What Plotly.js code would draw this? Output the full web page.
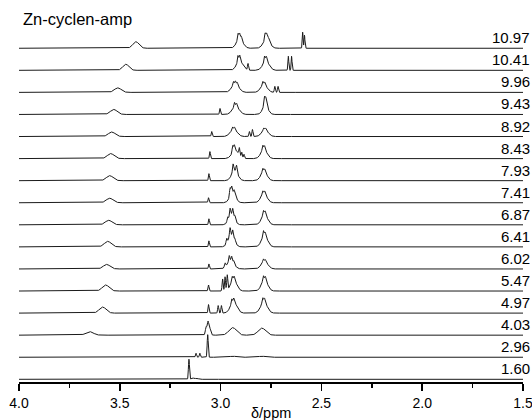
<!DOCTYPE html>
<html>
<head>
<meta charset="utf-8">
<script src="https://cdn.plot.ly/plotly-3.0.1.min.js"></script>
<style>html,body{margin:0;padding:0;background:#fff;}#chart{width:532px;height:420px;}</style>
</head>
<body>
<div id="chart"></div>
<script>
// Spectrum labels (top to bottom)
const labels = ["10.97","10.41","9.96","9.43","8.92","8.43","7.93","7.41","6.87","6.41","6.02","5.47","4.97","4.03","2.96","1.60"];

// Peak lists: [shift ppm, intensity, half-width ppm]
const s1097 = [[3.42,6.5,0.018],[2.905,9,0.019],[2.914,7,0.0035],[2.906,6,0.0035],[2.897,4,0.0035],
  [2.772,9,0.019],[2.779,7,0.0035],[2.771,6,0.0035],[2.762,3,0.0035],[2.593,16,0.0025],[2.584,13,0.0025]];
const s1041 = [[3.47,6,0.018],[2.905,9,0.019],[2.914,7,0.0035],[2.905,6,0.0035],[2.864,6.5,0.003],
  [2.775,9,0.019],[2.782,6,0.0035],[2.773,5,0.0035],[2.664,14,0.0025],[2.648,14,0.0025]];
const s996 = [[3.51,4.5,0.02],[2.927,8,0.021],[2.937,4,0.0035],[2.927,3.5,0.0035],[2.917,3,0.0035],
  [2.785,7.5,0.019],[2.791,4,0.0035],[2.781,3,0.0035],[2.731,6,0.003],[2.715,6,0.003]];
const s943 = [[3.53,5,0.02],[3.003,6,0.003],[2.925,8,0.02],[2.931,4.5,0.0035],[2.921,3.5,0.0035],
  [2.778,9,0.016],[2.783,9,0.0035],[2.776,8,0.0035],[2.769,3,0.0035]];
const s892 = [[3.54,4.5,0.02],[3.044,5,0.003],[2.935,7,0.02],[2.941,3,0.0035],[2.931,2.5,0.0035],
  [2.857,5,0.003],[2.842,7,0.003],[2.780,6.5,0.019],[2.786,2.5,0.0035],[2.776,2,0.0035]];
const s843 = [[3.545,5,0.02],[3.053,7,0.003],[2.927,8,0.02],[2.940,7,0.0035],[2.932,6,0.0035],
  [2.907,7,0.003],[2.895,5,0.003],[2.884,4,0.003],[2.785,9,0.018],[2.791,5,0.0035],[2.782,4,0.0035]];
const s793 = [[3.55,5,0.02],[3.058,7,0.003],[2.930,10,0.018],[2.938,8,0.0035],[2.921,7,0.0035],
  [2.785,9,0.018],[2.791,4,0.0035],[2.781,3,0.0035]];
const s741 = [[3.55,4.5,0.02],[3.060,5,0.003],[2.940,10,0.017],[2.953,8,0.0035],[2.945,7,0.0035],
  [2.933,4,0.0035],[2.925,3,0.0035],[2.785,9,0.018],[2.791,3.5,0.0035],[2.781,3,0.0035]];
const s687 = [[3.555,4.5,0.02],[3.058,6,0.003],[2.945,10,0.017],[2.965,4,0.0035],[2.953,8,0.0035],
  [2.940,7,0.0035],[2.929,4,0.0035],[2.782,10,0.018],[2.788,5,0.0035],[2.779,4,0.0035]];
const s641 = [[3.56,5.5,0.02],[3.058,6,0.003],[2.947,11,0.018],[2.970,5,0.0035],[2.953,9,0.0035],
  [2.940,7,0.0035],[2.929,3,0.0035],[2.782,11,0.018],[2.788,6,0.0035],[2.779,4,0.0035]];
const s602 = [[3.565,4.5,0.02],[3.058,5,0.003],[2.950,8,0.02],[2.978,4,0.0035],[2.957,6,0.0035],
  [2.945,5,0.0035],[2.934,3,0.0035],[2.782,7.5,0.019],[2.788,3,0.0035],[2.778,2,0.0035]];
const s547 = [[3.57,6,0.02],[3.060,6,0.003],[2.990,12,0.003],[2.978,14,0.003],[2.967,15,0.003],
  [2.935,11,0.018],[2.943,5,0.0035],[2.933,4,0.0035],[2.782,11,0.018],[2.788,5,0.0035],[2.778,4,0.0035]];
const s497 = [[3.585,6,0.02],[3.060,8.5,0.003],[3.012,7.5,0.003],[2.996,7.5,0.003],
  [2.935,11,0.019],[2.945,5,0.0035],[2.935,4,0.0035],[2.785,11,0.019],[2.791,5,0.0035],[2.782,4,0.0035]];
const s403 = [[3.65,3.5,0.022],[3.062,5,0.01],[3.072,6,0.004],[3.062,9,0.004],[3.052,4,0.004],
  [2.940,7.5,0.022],[2.795,7,0.022]];
const s296 = [[3.122,4,0.003],[3.103,4,0.003],[3.064,22.5,0.003],[2.940,1,0.02],[2.795,1,0.02]];
const s160 = [[3.157,20,0.003],[3.140,1.5,0.006],[3.120,1,0.01]];

const spectra = [s1097,s1041,s996,s943,s892,s843,s793,s741,s687,s641,s602,s547,s497,s403,s296,s160];
const offsetUnit = 22; // intensity units between stacked baselines
const tickValues = [4.0,3.5,3.0,2.5,2.0,1.5];

const grid = [];
for (let i = 0; i <= 2500; i++) grid.push(+(4.0 - i*0.001).toFixed(4));

const FONT = 'Liberation Sans, Arial, sans-serif';
const traces = [];
const annotations = [];
const n = spectra.length;
spectra.forEach((pk, idx) => {
  const k = n - 1 - idx;
  const y = grid.map(x => {
    let s = 0;
    for (const [c, h, w] of pk) { const d = (x - c)/w; s += h*Math.exp(-Math.LN2*d*d); }
    return k + s/offsetUnit;
  });
  traces.push({x: grid, y: y, type: 'scatter', mode: 'lines',
    line: {color: '#1a1a1a', width: 1}, hoverinfo: 'skip'});
  annotations.push({xref: 'paper', yref: 'y', x: 1.0178, y: k, xanchor: 'right', yanchor: 'bottom',
    text: labels[idx], showarrow: false, font: {family: FONT, size: 15, color: '#000'}});
});
annotations.push({xref: 'paper', yref: 'paper', x: 0.0045, y: 1.004, xanchor: 'left', yanchor: 'middle',
  text: 'Zn-cyclen-amp', showarrow: false, font: {family: FONT, size: 16.5, color: '#000'}});
annotations.push({xref: 'paper', yref: 'paper', x: 0.5, y: -0.087, xanchor: 'center', yanchor: 'middle',
  text: 'δ/ppm', showarrow: false, font: {family: FONT, size: 14.5, color: '#000'}});

const layout = {
  width: 532, height: 420,
  margin: {l: 19, r: 9, t: 20, b: 38},
  paper_bgcolor: '#fff', plot_bgcolor: '#fff',
  showlegend: false,
  font: {family: FONT, size: 14, color: '#000'},
  xaxis: {range: [4.0, 1.5], tickvals: tickValues, ticktext: tickValues.map(v => v.toFixed(1)),
    ticks: 'outside', ticklen: 7, tickwidth: 1.5, tickcolor: '#000', ticklabeloverflow: 'allow',
    minor: {dtick: 0.25, ticks: 'outside', ticklen: 4, tickwidth: 1.5, tickcolor: '#000', showgrid: false},
    showline: true, linecolor: '#000', linewidth: 2, showgrid: false, zeroline: false,
    tickfont: {size: 14}},
  yaxis: {range: [-0.122, 16.28], visible: false, showgrid: false, zeroline: false},
  annotations: annotations
};
Plotly.newPlot('chart', traces, layout, {staticPlot: true, displayModeBar: false});
</script>
</body>
</html>
